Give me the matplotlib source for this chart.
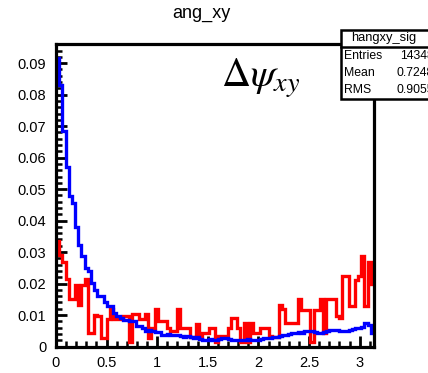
import matplotlib
matplotlib.use('Agg')
import matplotlib.pyplot as plt
import numpy as np
from matplotlib.patches import Rectangle
from matplotlib.ticker import MultipleLocator, FixedLocator, FixedFormatter

# ---------------- data (100 bins, 0..pi) ----------------
blue_sig = [
    0.0915, 0.0830, 0.0686, 0.0570, 0.0477, 0.0457, 0.0380, 0.0324, 0.0287, 0.0250,
    0.0240, 0.0203, 0.0180, 0.0160, 0.0160, 0.0140, 0.0128, 0.0128, 0.0108, 0.0096,
    0.0090, 0.0085, 0.0085, 0.0080, 0.0080, 0.0065, 0.0065, 0.0060, 0.0049, 0.0052,
    0.0049, 0.0045, 0.0045, 0.0038, 0.0038, 0.0040, 0.0035, 0.0035, 0.0035, 0.0032,
    0.0030, 0.0033, 0.0030, 0.0028, 0.0030, 0.0025, 0.0022, 0.0022, 0.0024, 0.0022,
    0.0022, 0.0025, 0.0027, 0.0027, 0.0025, 0.0022, 0.0022, 0.0020, 0.0022, 0.0022,
    0.0024, 0.0022, 0.0022, 0.0022, 0.0024, 0.0027, 0.0027, 0.0027, 0.0030, 0.0030,
    0.0032, 0.0038, 0.0038, 0.0040, 0.0043, 0.0043, 0.0045, 0.0043, 0.0048, 0.0048,
    0.0048, 0.0045, 0.0043, 0.0043, 0.0045, 0.0048, 0.0054, 0.0054, 0.0052, 0.0050,
    0.0050, 0.0050, 0.0052, 0.0055, 0.0060, 0.0060, 0.0062, 0.0075, 0.0068, 0.0042,
]
red_bkg = [
    0.0334, 0.0290, 0.0270, 0.0213, 0.0150, 0.0150, 0.0195, 0.0133, 0.0195, 0.0213,
    0.0044, 0.0044, 0.0100, 0.0096, 0.0028, 0.0028, 0.0086, 0.0118, 0.0086, 0.0086,
    0.0091, 0.0096, 0.0096, 0.0013, 0.0102, 0.0102, 0.0086, 0.0086, 0.0102, 0.0028,
    0.0060, 0.0118, 0.0080, 0.0080, 0.0080, 0.0060, 0.0050, 0.0050, 0.0118, 0.0060,
    0.0060, 0.0060, 0.0030, 0.0030, 0.0070, 0.0030, 0.0043, 0.0043, 0.0060, 0.0060,
    0.0013, 0.0033, 0.0033, 0.0033, 0.0060, 0.0091, 0.0091, 0.0060, 0.0013, 0.0075,
    0.0013, 0.0075, 0.0043, 0.0043, 0.0060, 0.0060, 0.0060, 0.0033, 0.0030, 0.0030,
    0.0133, 0.0118, 0.0075, 0.0075, 0.0075, 0.0075, 0.0150, 0.0117, 0.0117, 0.0117,
    0.0013, 0.0117, 0.0117, 0.0150, 0.0043, 0.0150, 0.0150, 0.0150, 0.0096, 0.0091,
    0.0223, 0.0223, 0.0128, 0.0128, 0.0210, 0.0223, 0.0287, 0.0128, 0.0270, 0.0197,
]
x_ticks = [0, 0.5, 1, 1.5, 2, 2.5, 3]
x_tick_labels = ['0', '0.5', '1', '1.5', '2', '2.5', '3']
y_ticks = [0, 0.01, 0.02, 0.03, 0.04, 0.05, 0.06, 0.07, 0.08, 0.09]
y_tick_labels = ['0', '0.01', '0.02', '0.03', '0.04', '0.05', '0.06', '0.07', '0.08', '0.09']
title = 'ang_xy'
stats_name = 'hangxy_sig'
stats_rows = [('Entries', '14348'), ('Mean', '0.7248'), ('RMS', '0.9055')]
label_math = r'$\Delta\psi_{xy}$'

# ---------------- figure ----------------
W, H = 428, 373
plt.rcParams['font.family'] = ['Liberation Sans', 'DejaVu Sans']
plt.rcParams['mathtext.fontset'] = 'stix'
fig = plt.figure(figsize=(W / 100, H / 100), dpi=100)


def fx(px):
    return px / W


def fy(py):
    return 1 - py / H


L, R, T, B = 56, 374, 44, 346.5
ax = fig.add_axes([fx(L), fy(B), fx(R) - fx(L), fy(T) - fy(B)])

edges = np.linspace(0, np.pi, len(blue_sig) + 1)
ax.stairs(red_bkg, edges, color='#ff0000', lw=2.4, baseline=None, zorder=2)
ax.stairs(blue_sig, edges, color='#0000ff', lw=2.4, baseline=None, zorder=3)

ax.set_xlim(0, np.pi)
ax.set_ylim(0, 0.0961)

for s in ax.spines.values():
    s.set_linewidth(2.3)
    s.set_zorder(5)

ax.xaxis.set_major_locator(FixedLocator(x_ticks))
ax.xaxis.set_major_formatter(FixedFormatter(x_tick_labels))
ax.yaxis.set_major_locator(FixedLocator(y_ticks))
ax.yaxis.set_major_formatter(FixedFormatter(y_tick_labels))
ax.xaxis.set_minor_locator(MultipleLocator(0.1))
ax.yaxis.set_minor_locator(MultipleLocator(0.002))
ax.tick_params(which='major', direction='in', length=8, width=2.0,
               labelsize=10.5, top=False, right=False)
ax.tick_params(which='minor', direction='in', length=4, width=1.8,
               top=False, right=False)
ax.tick_params(axis='y', which='major', pad=7)
ax.tick_params(axis='x', which='major', pad=7)

# title
fig.text(fx(201), fy(14), title, ha='center', va='center', fontsize=13)

# big math label
fig.text(fx(221), fy(87), label_math, ha='left', va='baseline', fontsize=29)

# stats box
bx0, by0, by1 = 341, 30, 99
bx1 = 440
box = Rectangle((fx(bx0), fy(by1)), fx(bx1) - fx(bx0), fy(by0) - fy(by1),
                transform=fig.transFigure, facecolor='white', edgecolor='black',
                lw=1.8, zorder=10, clip_on=False)
fig.add_artist(box)
sep = plt.Line2D([fx(bx0), fx(bx1)], [fy(46.5), fy(46.5)], transform=fig.transFigure,
                 color='black', lw=1.8, zorder=11)
fig.add_artist(sep)
fig.text(fx(384), fy(38.5), stats_name, ha='center', va='center', fontsize=9.3, zorder=12)
row_y = [56, 73, 90]
val_right = 434
for (k, v), yy in zip(stats_rows, row_y):
    fig.text(fx(344), fy(yy), k, ha='left', va='center', fontsize=8.8, zorder=12)
    fig.text(fx(val_right), fy(yy), v, ha='right', va='center', fontsize=8.8, zorder=12)

fig.savefig('out.png', dpi=100)
